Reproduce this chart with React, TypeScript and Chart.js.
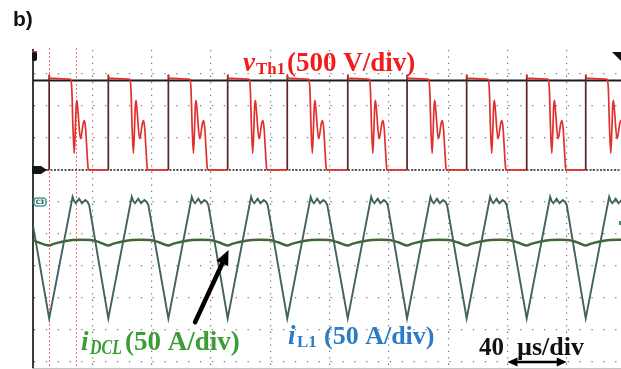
import { useEffect, useRef } from "react";
import { Chart, registerables } from "chart.js";

Chart.register(...registerables);

// ---------- axes: time in µs (40 µs/div), vertical in scope divisions ----------
const X_TICKS_US = [0, 40, 80, 120, 160, 200, 240, 280, 320, 360];
const X_MIN_US = 0;
const X_MAX_US = 396.6;
const Y_DIV_TICKS = [0, 1, 2, 3, 4, 5, 6, 7, 8, 9];
const Y_DIV_MIN = -0.19;
const Y_DIV_MAX = 9.75;
const V_PER_DIV = 500; // vTh1: 500 V/div
const V_ZERO_DIV = 6; // ground marker of channel 1
const A_PER_DIV = 50; // currents: 50 A/div
const A_ZERO_DIV = 0;

// ---------- read values ----------
// rising edges of vTh1 (= valleys of iL1), µs
const EDGES_US = [10.9, 50.8, 91.3, 131.3, 171.5, 212.3, 252.3, 292.5, 333.0, 372.8];

// vTh1 shape of one period, offsets from the rising edge (µs) and volts
const VTH_START = { x: 0, y: 0 };
const VTH_SHAPE_US = [0, 0, 0.4, 14.6, 15.3, 16.0, 16.9, 17.6, 18.2, 18.7, 19.4, 21.1, 21.9, 22.9, 23.8, 24.6, 25.4, 26.2, 26.6];
const VTH_SHAPE_V = [0, 1490, 1435, 1415, 1250, 700, 260, 600, 1000, 1090, 930, 490, 560, 720, 770, 640, 330, 40, 0];
const FLAT_TRACE_V = 1400; // black flat trace at the top
const ZERO_TRACE_V = 0; // black dashed trace at ground

// iL1 shape of one period, offsets from the valley (µs) and amperes
const IL1_START = { x: 0, y: 213 };
const IL1_SHAPE_US = [0, 15.8, 16.9, 18.0, 20.2, 22.1, 24.3, 25.9, 27.0];
const IL1_SHAPE_A = [68, 258, 251, 248, 255, 248, 253, 250, 245];

// iDCL shape of one period, offsets from the dip (µs) and amperes
const IDCL_START = { x: 0, y: 190 };
const IDCL_SHAPE_US = [0, 3, 8, 16, 22, 28, 34];
const IDCL_SHAPE_A = [182, 184.5, 187.5, 190.5, 191, 190.5, 187];

// annotations (data coordinates)
const CURSORS_US = [10.9, 29.3];
const ARROW_TAIL = { x: 109.3, y: 62 }; // µs, A
const ARROW_TIP = { x: 131.9, y: 175 }; // µs, A
const SCALE_BAR_US = [320, 360];
const SCALE_BAR_A = 0;
const C3_MARKER_A = 250;

function build(start: { x: number; y: number }, edges: number[], sx: number[], sy: number[]) {
  const pts: { x: number; y: number }[] = [start];
  for (const e of edges) {
    for (let i = 0; i < sx.length; i++) pts.push({ x: +(e + sx[i]).toFixed(2), y: sy[i] });
  }
  return pts;
}

const scopeOverlay = {
  id: "scopeOverlay",
  beforeDatasetsDraw(chart: any) {
    const { ctx, chartArea: a, scales } = chart;
    ctx.save();
    ctx.strokeStyle = "#ff6b6b";
    ctx.lineWidth = 1;
    ctx.setLineDash([2, 2]);
    for (const c of CURSORS_US) {
      const px = Math.round(scales.x.getPixelForValue(c)) + 0.5;
      ctx.beginPath();
      ctx.moveTo(px, a.top - 2);
      ctx.lineTo(px, a.bottom);
      ctx.stroke();
    }
    ctx.restore();
  },
  afterDraw(chart: any) {
    const { ctx, chartArea: a, scales } = chart;
    const sx = scales.x;
    const sV = scales.yV;
    const sA = scales.yA;
    ctx.save();

    // --- channel markers ---
    ctx.fillStyle = "#111";
    ctx.beginPath();
    ctx.roundRect(a.left - 1, a.top + 1, 5, 10, 2);
    ctx.fill();
    ctx.fillStyle = "#d03030";
    ctx.fillRect(a.left - 1, a.top + 1, 5, 1.5);
    const gy = sV.getPixelForValue(ZERO_TRACE_V);
    ctx.fillStyle = "#151515";
    ctx.beginPath();
    ctx.moveTo(a.left - 1, gy - 4);
    ctx.lineTo(a.left + 8, gy - 4);
    ctx.lineTo(a.left + 14, gy);
    ctx.lineTo(a.left + 8, gy + 4);
    ctx.lineTo(a.left - 1, gy + 4);
    ctx.closePath();
    ctx.fill();
    const cy = sA.getPixelForValue(C3_MARKER_A);
    ctx.fillStyle = "#ffffff";
    ctx.strokeStyle = "#3aa59a";
    ctx.lineWidth = 1.5;
    ctx.beginPath();
    ctx.roundRect(a.left + 1, cy - 4, 12, 8, 3);
    ctx.fill();
    ctx.stroke();
    ctx.fillStyle = "#1d3b3b";
    ctx.font = 'bold 6px "DejaVu Sans"';
    ctx.textAlign = "center";
    ctx.textBaseline = "middle";
    ctx.fillText("C3", a.left + 7, cy + 0.5);
    ctx.textAlign = "left";
    ctx.textBaseline = "alphabetic";
    ctx.fillStyle = "#3a8f88";
    ctx.fillRect(a.right - 2, cy + 19, 2, 4);
    ctx.fillStyle = "#111";
    ctx.beginPath();
    ctx.moveTo(a.right - 9, a.top + 2);
    ctx.lineTo(a.right + 1, a.top + 2);
    ctx.lineTo(a.right + 1, a.top + 12);
    ctx.closePath();
    ctx.fill();

    // --- black arrow pointing at iDCL ---
    const tx = sx.getPixelForValue(ARROW_TAIL.x), ty = sA.getPixelForValue(ARROW_TAIL.y);
    const hx = sx.getPixelForValue(ARROW_TIP.x), hy = sA.getPixelForValue(ARROW_TIP.y);
    const ang = Math.atan2(hy - ty, hx - tx);
    const hl = 15, hw = 6.5;
    const bx = hx - hl * Math.cos(ang), by = hy - hl * Math.sin(ang);
    ctx.strokeStyle = "#000";
    ctx.fillStyle = "#000";
    ctx.lineWidth = 4.5;
    ctx.lineCap = "round";
    ctx.beginPath();
    ctx.moveTo(tx, ty);
    ctx.lineTo(bx, by);
    ctx.stroke();
    ctx.beginPath();
    ctx.moveTo(hx, hy);
    ctx.lineTo(bx + hw * Math.sin(ang), by - hw * Math.cos(ang));
    ctx.lineTo(bx - hw * Math.sin(ang), by + hw * Math.cos(ang));
    ctx.closePath();
    ctx.fill();

    // --- double arrow of the time scale ---
    const x1 = sx.getPixelForValue(SCALE_BAR_US[0]);
    const x2 = sx.getPixelForValue(SCALE_BAR_US[1]);
    const yb = sA.getPixelForValue(SCALE_BAR_A);
    ctx.lineWidth = 2.5;
    ctx.lineCap = "butt";
    ctx.beginPath();
    ctx.moveTo(x1 + 6, yb);
    ctx.lineTo(x2 - 6, yb);
    ctx.stroke();
    ctx.beginPath();
    ctx.moveTo(x1, yb);
    ctx.lineTo(x1 + 10, yb - 4.5);
    ctx.lineTo(x1 + 10, yb + 4.5);
    ctx.closePath();
    ctx.fill();
    ctx.beginPath();
    ctx.moveTo(x2, yb);
    ctx.lineTo(x2 - 10, yb - 4.5);
    ctx.lineTo(x2 - 10, yb + 4.5);
    ctx.closePath();
    ctx.fill();

    // --- texts ---
    const serif = '"Liberation Serif", "Times New Roman", serif';
    const put = (t: string, x: number, y: number, font: string, color: string, maxW?: number) => {
      ctx.font = font;
      ctx.fillStyle = color;
      if (maxW) ctx.fillText(t, x, y, maxW);
      else ctx.fillText(t, x, y);
    };
    put("b)", 13, 26, 'bold 21px "Liberation Sans", Arial, sans-serif', "#111");

    const red = "#f21d1a";
    put("v", 243, 71, `italic bold 27px ${serif}`, red);
    put("Th1", 256, 74, `bold 17px ${serif}`, red);
    put("(500 V/div)", 287, 71, `bold 27px ${serif}`, red, 130);

    const green = "#3c9c36";
    put("i", 81, 350, `italic bold 27px ${serif}`, green);
    put("DCL", 90, 354, `italic bold 21px ${serif}`, green, 32);
    put("(50 A/div)", 125, 350, `bold 27px ${serif}`, green, 117);

    const blue = "#2b7cc6";
    put("i", 288, 344, `italic bold 27px ${serif}`, blue);
    put("L1", 297, 347, `bold 17px ${serif}`, blue);
    put("(50 A/div)", 324, 344, `bold 26px ${serif}`, blue, 113);

    put("40", 479, 355, `bold 25px ${serif}`, "#111");
    put("µs/div", 517, 355, `bold 26px ${serif}`, "#111", 71);

    ctx.restore();
  },
};

export default function App() {
  const ref = useRef<HTMLCanvasElement | null>(null);

  useEffect(() => {
    const canvas = ref.current;
    if (!canvas) return;
    const vth = build(VTH_START, EDGES_US, VTH_SHAPE_US, VTH_SHAPE_V);
    const il1 = build(IL1_START, EDGES_US, IL1_SHAPE_US, IL1_SHAPE_A);
    const idcl = build(IDCL_START, EDGES_US, IDCL_SHAPE_US, IDCL_SHAPE_A);

    const chart = new Chart(canvas, {
      type: "line",
      data: {
        datasets: [
          {
            label: "vTh1",
            data: vth,
            yAxisID: "yV",
            borderColor: "#e2302e",
            borderWidth: 1.7,
            pointRadius: 0,
            cubicInterpolationMode: "monotone",
            order: 0,
            segment: {
              borderColor: (c: any) => (c.p0.parsed.x === c.p1.parsed.x ? "#5a2222" : undefined),
            },
          },
          {
            label: "iL1",
            data: il1,
            yAxisID: "yA",
            borderColor: "#42625f",
            borderWidth: 1.9,
            pointRadius: 0,
            order: 1,
          },
          {
            label: "iDCL",
            data: idcl,
            yAxisID: "yA",
            borderColor: "#42653a",
            borderWidth: 2.4,
            pointRadius: 0,
            cubicInterpolationMode: "monotone",
            order: 2,
          },
          {
            label: "flat",
            data: [
              { x: X_MIN_US, y: FLAT_TRACE_V },
              { x: X_MAX_US, y: FLAT_TRACE_V },
            ],
            yAxisID: "yV",
            borderColor: "#1c1c1c",
            borderWidth: 2,
            pointRadius: 0,
            order: 3,
          },
          {
            label: "zero",
            data: [
              { x: X_MIN_US, y: ZERO_TRACE_V },
              { x: X_MAX_US, y: ZERO_TRACE_V },
            ],
            yAxisID: "yV",
            borderColor: "#2a2a2a",
            borderWidth: 1.5,
            borderDash: [2, 1.5],
            pointRadius: 0,
            order: 3,
          },
        ],
      },
      options: {
        animation: false,
        responsive: false,
        maintainAspectRatio: false,
        events: [],
        layout: { padding: { left: 33, top: 50, right: 0, bottom: 1 } },
        plugins: { legend: { display: false }, tooltip: { enabled: false }, title: { display: false } },
        scales: {
          x: {
            type: "linear",
            min: X_MIN_US,
            max: X_MAX_US,
            afterBuildTicks: (s: any) => {
              s.ticks = X_TICKS_US.map((v) => ({ value: v }));
            },
            ticks: { display: false },
            grid: { color: "#777777", lineWidth: 1.2, drawTicks: false },
            border: { display: true, color: "#c4c4c4", width: 1, dash: [1.3, 5.1] },
          },
          y: {
            type: "linear",
            position: "left",
            min: Y_DIV_MIN,
            max: Y_DIV_MAX,
            afterBuildTicks: (s: any) => {
              s.ticks = Y_DIV_TICKS.map((v) => ({ value: v }));
            },
            ticks: { display: false },
            grid: { color: "#7a7a7a", lineWidth: 1.2, drawTicks: false },
            border: { display: true, color: "#3a3a3a", width: 2, dash: [1.3, 10.56] },
          },
          yV: {
            type: "linear",
            display: false,
            min: (Y_DIV_MIN - V_ZERO_DIV) * V_PER_DIV,
            max: (Y_DIV_MAX - V_ZERO_DIV) * V_PER_DIV,
          },
          yA: {
            type: "linear",
            display: false,
            min: (Y_DIV_MIN - A_ZERO_DIV) * A_PER_DIV,
            max: (Y_DIV_MAX - A_ZERO_DIV) * A_PER_DIV,
          },
        },
      },
      plugins: [scopeOverlay],
    } as any);
    return () => chart.destroy();
  }, []);

  return (
    <div style={{ position: "absolute", left: 0, top: 0, width: 621, height: 369, background: "#fff" }}>
      <canvas ref={ref} width={621} height={369} style={{ width: 621, height: 369, display: "block" }} />
    </div>
  );
}
